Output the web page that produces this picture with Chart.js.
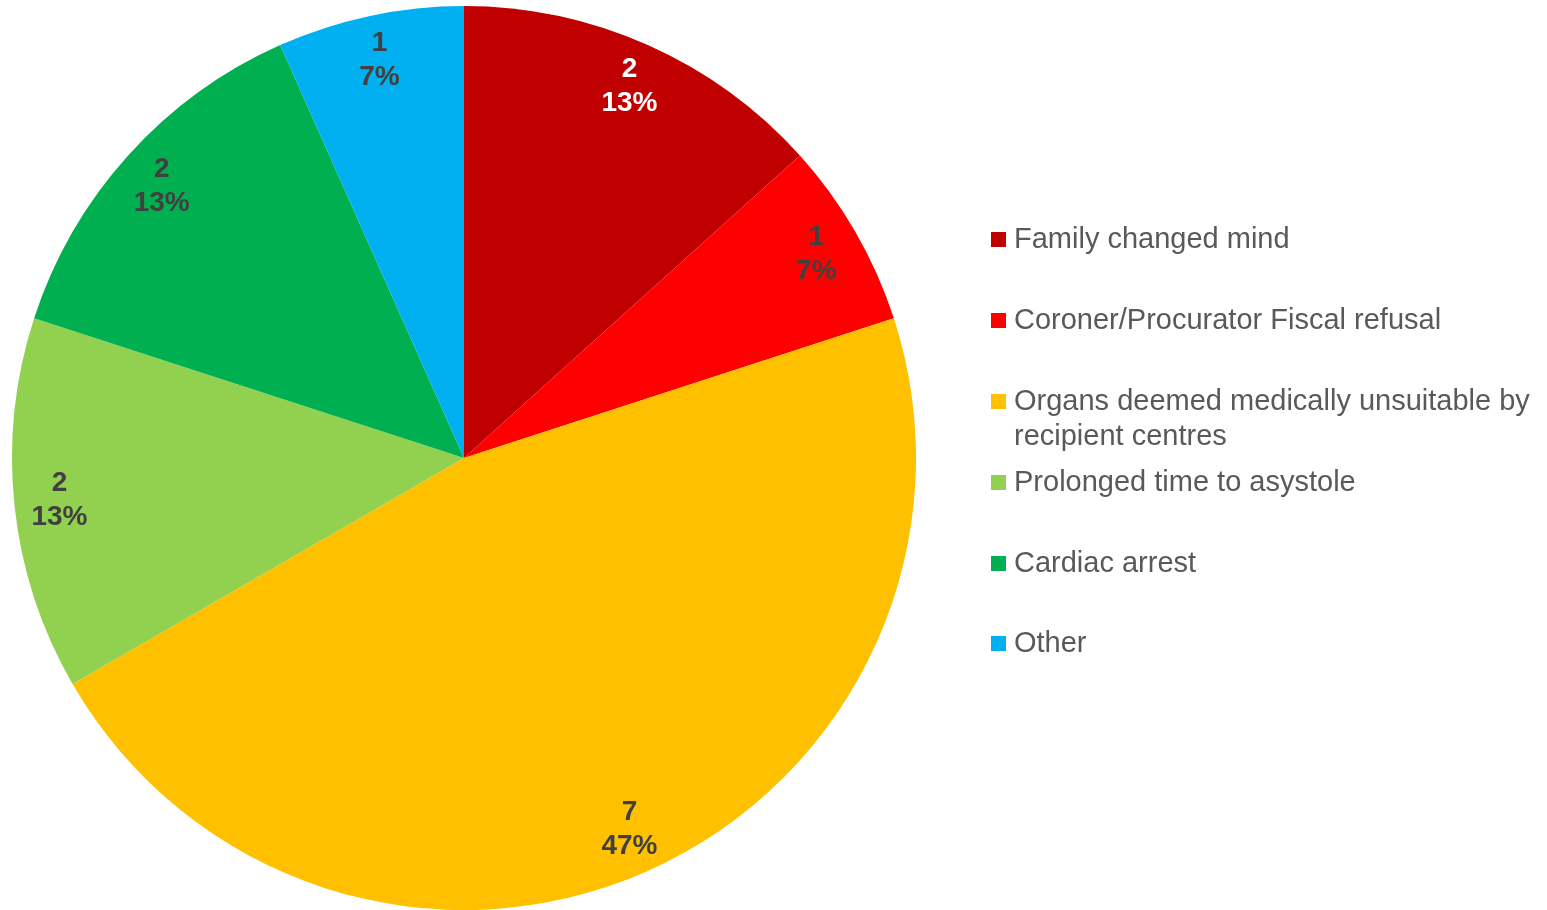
<!DOCTYPE html>
<html>
<head>
<meta charset="utf-8">
<script src="https://cdn.jsdelivr.net/npm/chart.js@4.4.1/dist/chart.umd.min.js"></script>
<style>
  body { margin: 0; background: #fff; }
  #wrap { position: relative; width: 1547px; height: 910px; }
  #chart { position: absolute; left: 0; top: 0; }
  #legend { position: absolute; left: 991px; top: 0; font-family: "Liberation Sans", Arial, sans-serif; font-size: 29px; color: #595959; }
  .item { position: absolute; left: 0; white-space: nowrap; line-height: 35px; }
  .box { position: absolute; left: 0; top: 11px; width: 15px; height: 15px; }
  .txt { position: absolute; left: 23px; top: 0; }
</style>
</head>
<body>
<div id="wrap">
  <canvas id="chart" width="1547" height="910"></canvas>
  <div id="legend"></div>
</div>
<script>
// ==================== DATA ====================
const labels = [
    'Family changed mind',
    'Coroner/Procurator Fiscal refusal',
    ['Organs deemed medically unsuitable by', 'recipient centres'],
    'Prolonged time to asystole',
    'Cardiac arrest',
    'Other'
];
const counts = [2, 1, 7, 2, 2, 1];
const colors = ['#C00000', '#FF0000', '#FFC000', '#92D050', '#00B050', '#00B0F0'];
const labelColors = ['#FFFFFF', '#404040', '#404040', '#404040', '#404040', '#404040'];
const legendTops = [221, 302, 383, 464, 545, 625];

const total = counts.reduce((a, b) => a + b, 0);

// ==================== LABEL PLUGIN ====================
const sliceLabels = {
    id: 'sliceLabels',
    afterDatasetsDraw(chart) {
        const ctx = chart.ctx;
        const arcs = chart.getDatasetMeta(0).data;
        ctx.save();
        ctx.font = 'bold 28px "Liberation Sans", Arial, sans-serif';
        ctx.textAlign = 'center';
        ctx.textBaseline = 'middle';
        arcs.forEach((arc, i) => {
            const mid = (arc.startAngle + arc.endAngle) / 2;
            const r = arc.outerRadius * 0.9;
            const x = arc.x + Math.cos(mid) * r;
            const y = arc.y + Math.sin(mid) * r;
            const pct = Math.round(counts[i] / total * 100) + '%';
            ctx.fillStyle = labelColors[i];
            ctx.fillText(String(counts[i]), x, y - 17);
            ctx.fillText(pct, x, y + 17);
        });
        ctx.restore();
    }
};

// ==================== CHART ====================
new Chart(document.getElementById('chart'), {
    type: 'pie',
    data: {
        labels: labels,
        datasets: [{ data: counts, backgroundColor: colors, borderWidth: 0 }]
    },
    options: {
        responsive: false,
        animation: false,
        layout: { padding: { left: 12, top: 6, right: 631, bottom: 0 } },
        plugins: { legend: { display: false }, tooltip: { enabled: false } }
    },
    plugins: [sliceLabels]
});

// ==================== LEGEND ====================
const legend = document.getElementById('legend');
labels.forEach((lab, i) => {
    const item = document.createElement('div');
    item.className = 'item';
    item.style.top = legendTops[i] + 'px';
    const box = document.createElement('div');
    box.className = 'box';
    box.style.background = colors[i];
    const txt = document.createElement('div');
    txt.className = 'txt';
    txt.innerHTML = Array.isArray(lab) ? lab.join('<br>') : lab;
    item.appendChild(box);
    item.appendChild(txt);
    legend.appendChild(item);
});
</script>
</body>
</html>
